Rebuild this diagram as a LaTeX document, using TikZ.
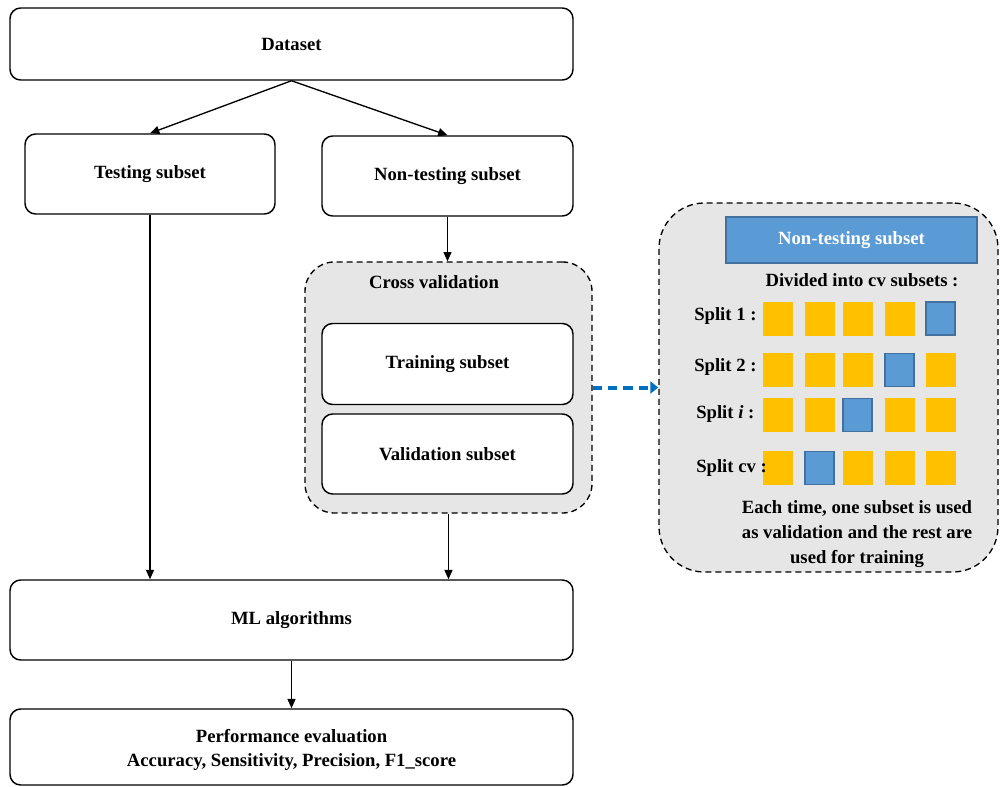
\documentclass[tikz,border=0pt]{standalone}
\usepackage{fontspec}
\setmainfont{Liberation Serif}
\usetikzlibrary{arrows.meta}
\definecolor{panelgray}{HTML}{E6E6E6}
\definecolor{sqblue}{HTML}{5B9BD5}
\definecolor{sqblueedge}{HTML}{41719C}
\definecolor{sqorange}{HTML}{FFC000}
\definecolor{arrowblue}{HTML}{0070C0}
\newcommand{\bigbf}{\fontsize{14}{18.5}\selectfont\bfseries}
\tikzset{
  box/.style={draw=black, line width=1.1pt, rounded corners=8pt, fill=white, inner sep=0pt, align=center, font=\bigbf},
  dashbox/.style={draw=black, line width=1.0pt, dash pattern=on 4.5pt off 3pt, fill=panelgray, inner sep=0pt},
  conn/.style={line width=1.0pt, -{Triangle[length=7pt,width=6pt]}},
  bluearrow/.style={draw=arrowblue, line width=3pt, dash pattern=on 7pt off 4.5pt, -{Triangle[length=6pt,width=9pt]}},
  sqo/.style={fill=sqorange, draw=sqorange, line width=0.5pt, minimum width=21.75pt, minimum height=24.75pt, inner sep=0pt},
  sqb/.style={fill=sqblue, draw=sqblueedge, line width=1.1pt, minimum width=21.75pt, minimum height=24.75pt, inner sep=0pt},
  lbl/.style={font=\bigbf, inner sep=0pt, anchor=west},
  txt/.style={font=\bigbf, inner sep=0pt, align=center}
}
\begin{document}
\begin{tikzpicture}[x=0.75pt, y=-0.75pt]
\useasboundingbox (0,0) rectangle (1000,786);
% left column
\node[box, minimum width={563*0.75pt}, minimum height={72*0.75pt}] (ds) at (291.5,44) {Dataset};
\node[box, minimum width={250*0.75pt}, minimum height={80*0.75pt}] (ts) at (150,174) {Testing subset};
\node[box, minimum width={251*0.75pt}, minimum height={80*0.75pt}] (nt) at (447.5,176) {Non-testing subset};
\node[dashbox, rounded corners=22pt, minimum width={287*0.75pt}, minimum height={251*0.75pt}] (cv) at (448.5,387.5) {};
\node[txt] (cvt) at (434,282) {Cross validation};
\node[box, minimum width={251*0.75pt}, minimum height={81*0.75pt}] (tr) at (447.5,364) {Training subset};
\node[box, minimum width={251*0.75pt}, minimum height={80*0.75pt}] (va) at (447.5,454) {Validation subset};
\node[box, minimum width={563*0.75pt}, minimum height={80*0.75pt}] (ml) at (291.5,620) {ML algorithms};
\node[box, minimum width={563*0.75pt}, minimum height={76*0.75pt}] (pe) at (291.5,747) {};
\node[txt] (pet) at (291.5,750) {Performance evaluation\\Accuracy, Sensitivity, Precision, F1\_score};
% connectors
\draw[conn] (ds.south) -- (ts.north);
\draw[conn] (ds.south) -- (nt.north);
\draw[conn] (ts.south) -- (ts.south |- ml.north);
\draw[conn] (nt.south) -- (nt.south |- cv.north);
\draw[conn] (cv.south) -- (cv.south |- ml.north);
\draw[conn] (ml.south) -- (pe.north);
% right panel
\node[dashbox, rounded corners=34pt, minimum width={339*0.75pt}, minimum height={369*0.75pt}] (pn) at (828.5,387.5) {};
\draw[bluearrow] (cv.east) -- (pn.west);
\node[fill=sqblue, draw=sqblueedge, line width=1.1pt, minimum width={251*0.75pt}, minimum height={46*0.75pt}, inner sep=0pt, text=white, font=\bigbf] (nts) at (851.5,240) {Non-testing subset};
\node[txt] (div) at (862,280) {Divided into cv subsets :};
% squares
\foreach \r/\y in {1/318.5, 2/370, 3/415, 4/468}{
  \foreach \c/\x in {1/777.5, 2/819.5, 3/857.5, 4/899.5, 5/940.5}{
    \pgfmathtruncatemacro{\bl}{(\r==1 && \c==5) || (\r==2 && \c==4) || (\r==3 && \c==3) || (\r==4 && \c==2)}
    \ifnum\bl=1
      \node[sqb] (s\r\c) at (\x,\y) {};
    \else
      \node[sqo] (s\r\c) at (\x,\y) {};
    \fi
  }
}
% labels
\node[lbl] (l1) at (694,316) {Split 1 :};
\node[lbl] (l2) at (694,367) {Split 2 :};
\node[lbl] (l3) at (696,414) {Split \textit{i} :};
\node[lbl] (l4) at (696,468) {Split cv :};
\node[txt] (each) at (857,534) {Each time, one subset is used\\as validation and the rest are\\used for training};
\end{tikzpicture}
\end{document}
